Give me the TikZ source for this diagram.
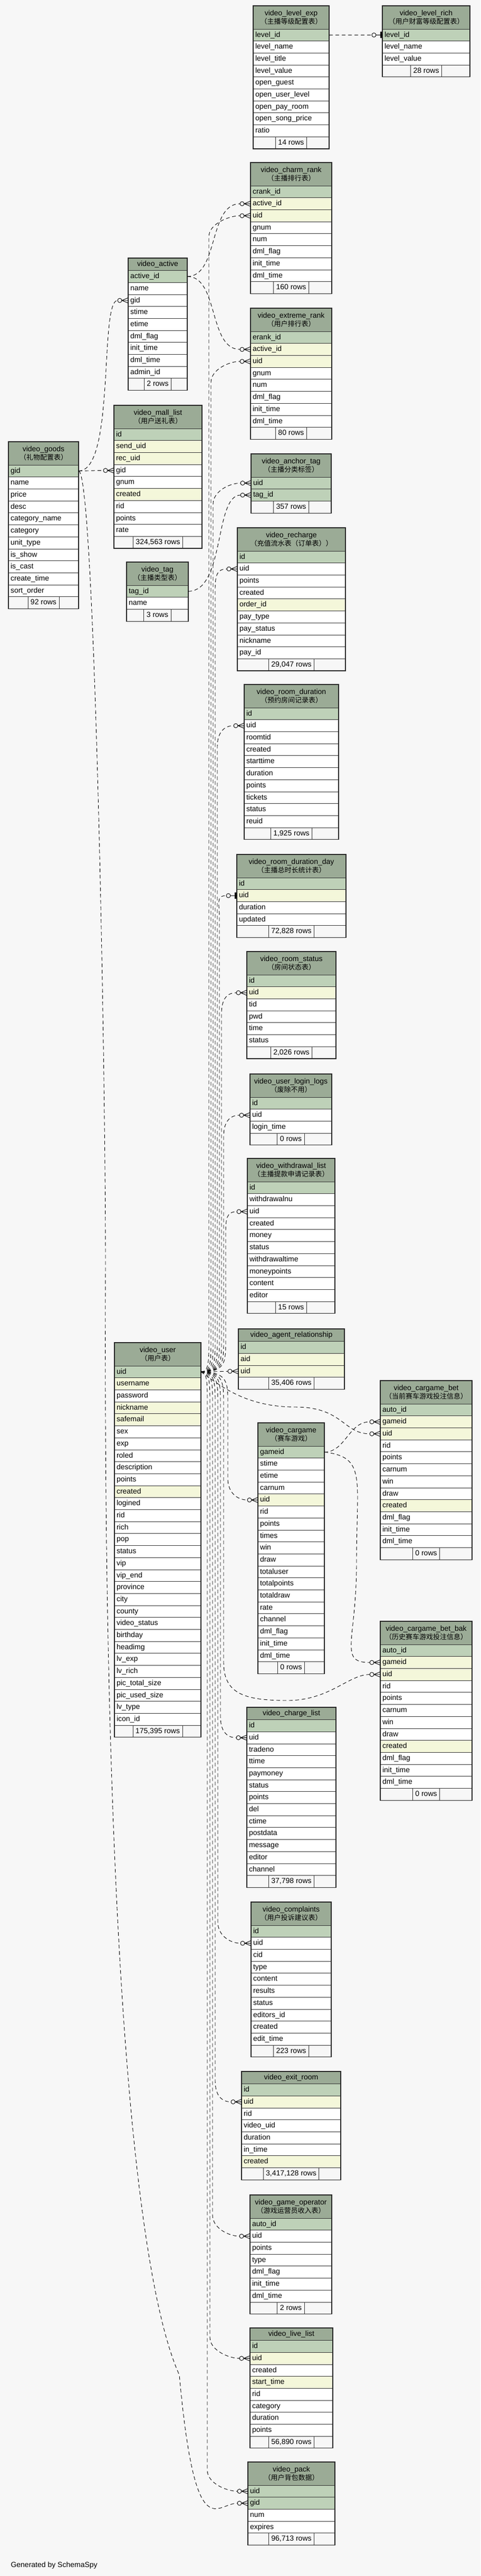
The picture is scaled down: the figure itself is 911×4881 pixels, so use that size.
\documentclass[tikz,border=0pt]{standalone}
\usepackage{fontspec}
\setmainfont{Liberation Sans}
\newfontfamily\cjk{Noto Sans CJK SC}
\usepackage{tikz}
\usetikzlibrary{calc,positioning}

\definecolor{pagebg}{HTML}{F7F7F7}
\definecolor{headc}{HTML}{9BAB96}
\definecolor{rowp}{HTML}{BED1B8}
\definecolor{rowi}{HTML}{F4F7DA}
\definecolor{rown}{HTML}{FFFFFF}

\newcommand{\rowh}{22.7}
\newcommand{\zhsub}[1]{{\cjk\fontsize{13}{15}\selectfont #1}}
% #1 name, #2 x, #3 y, #4 width, #5 title, #6 header height, #7 columns, #8 row count
\newcommand{\dbtable}[8]{%
  \pgfmathsetmacro{\tblw}{#4-8}
  \node[tblhead, minimum width=#4, minimum height=#6] (#1) at (#2,#3) {#5};
  \foreach \fld/\kind [count=\i from 0] in {#7} {
    \node[tblrow, fill=row\kind, text width=\tblw pt] (#1-\fld) at (#2,#3+#6+\i*\rowh) {\detokenize\expandafter{\fld}};
    \xdef\tblrows{\i}
  }
  \node[tblrow, fill=pagebg, text width=\tblw pt] (#1-foot) at (#2,#3+#6+\tblrows*\rowh+\rowh) {};
  \node[tblcount] at (#1-foot.center) {#8};
  \draw[tblframe] (#1.north west) rectangle (#1-foot.south east);
}
% zero or many
\newcommand{\crowfoot}[1]{%
  \draw[crowline] ([xshift=-12pt]#1.west) -- ([yshift=5pt]#1.west)
                  ([xshift=-12pt]#1.west) -- ([yshift=-5pt]#1.west)
                  ([xshift=-12pt]#1.west) -- (#1.west);
  \draw[crowline] ([xshift=-16pt]#1.west) circle[radius=4pt];
}
% zero or one
\newcommand{\onemark}[1]{%
  \draw[crowline] ([xshift=-16pt]#1.west) circle[radius=4pt] ([xshift=-12pt]#1.west) -- (#1.west);
  \draw[line width=3pt] ([xshift=-2.5pt,yshift=-6pt]#1.west) -- ([xshift=-2.5pt,yshift=6pt]#1.west);
}

\begin{document}
\begin{tikzpicture}[x=1pt,y=-1pt,
    tblhead/.style={draw=black!80, fill=headc, anchor=north west, align=center, inner sep=0pt, outer sep=0pt, line width=0.8pt, font=\fontsize{14}{16}\selectfont},
    tblrow/.style={draw=black!80, anchor=north west, align=left, inner xsep=4pt, inner ysep=0pt, outer sep=0pt, minimum height=\rowh, text height=10.5pt, text depth=3pt, line width=0.8pt, font=\fontsize{14}{16}\selectfont},
    tblcount/.style={draw=black!80, fill=pagebg, inner xsep=5pt, inner ysep=0pt, outer sep=0pt, minimum height=\rowh, text height=10.5pt, text depth=3pt, line width=0.8pt, font=\fontsize{14}{16}\selectfont},
    tblframe/.style={draw=black!85, line width=1.2pt},
    fk/.style={dash pattern=on 7pt off 5pt, line width=0.9pt},
    crowline/.style={line width=0.9pt}]
	\useasboundingbox (0,0) rectangle (911,4881);
	\fill [pagebg] (0,0) rectangle (911,4881);

	% tables
	\dbtable{lvexp}{480}{11}{144}{video\_level\_exp\\\zhsub{（主播等级配置表）}}{44}{level_id/p,level_name/n,level_title/n,level_value/n,open_guest/n,open_user_level/n,open_pay_room/n,open_song_price/n,ratio/n}{14 rows}
	\dbtable{lvrich}{725}{11}{166}{video\_level\_rich\\\zhsub{（用户财富等级配置表）}}{44}{level_id/p,level_name/n,level_value/n}{28 rows}
	\dbtable{charm}{475}{308}{154}{video\_charm\_rank\\\zhsub{（主播排行表）}}{44}{crank_id/p,active_id/i,uid/i,gnum/n,num/n,dml_flag/n,init_time/n,dml_time/n}{160 rows}
	\dbtable{active}{243}{489}{112}{video\_active}{23.5}{active_id/p,name/n,gid/n,stime/n,etime/n,dml_flag/n,init_time/n,dml_time/n,admin_id/n}{2 rows}
	\dbtable{extreme}{475}{584}{154}{video\_extreme\_rank\\\zhsub{（用户排行表）}}{44}{erank_id/p,active_id/i,uid/i,gnum/n,num/n,dml_flag/n,init_time/n,dml_time/n}{80 rows}
	\dbtable{mall}{216}{768}{167}{video\_mall\_list\\\zhsub{（用户送礼表）}}{44}{id/p,send_uid/i,rec_uid/i,gid/n,gnum/n,created/i,rid/n,points/n,rate/n}{324,563 rows}
	\dbtable{goods}{16}{837}{133}{video\_goods\\\zhsub{（礼物配置表）}}{44}{gid/p,name/n,price/n,desc/n,category_name/n,category/n,unit_type/n,is_show/n,is_cast/n,create_time/n,sort_order/n}{92 rows}
	\dbtable{anchortag}{476}{860}{152}{video\_anchor\_tag\\\zhsub{（主播分类标签）}}{44}{uid/p,tag_id/p}{357 rows}
	\dbtable{recharge}{450}{1000}{205}{video\_recharge\\\zhsub{（充值流水表（订单表））}}{44}{id/p,uid/n,points/n,created/n,order_id/i,pay_type/n,pay_status/n,nickname/n,pay_id/n}{29,047 rows}
	\dbtable{vtag}{240}{1065}{117}{video\_tag\\\zhsub{（主播类型表）}}{44}{tag_id/p,name/n}{3 rows}
	\dbtable{roomdur}{463}{1297}{179}{video\_room\_duration\\\zhsub{（预约房间记录表）}}{44}{id/p,uid/n,roomtid/n,created/n,starttime/n,duration/n,points/n,tickets/n,status/n,reuid/n}{1,925 rows}
	\dbtable{roomday}{449}{1619}{207}{video\_room\_duration\_day\\\zhsub{（主播总时长统计表）}}{44}{id/p,uid/i,duration/n,updated/n}{72,828 rows}
	\dbtable{roomstatus}{468}{1803}{169}{video\_room\_status\\\zhsub{（房间状态表）}}{44}{id/p,uid/i,tid/n,pwd/n,time/n,status/n}{2,026 rows}
	\dbtable{loginlogs}{474}{2035}{155}{video\_user\_login\_logs\\\zhsub{（废除不用）}}{44}{id/p,uid/n,login_time/n}{0 rows}
	\dbtable{withdrawal}{469}{2195}{166}{video\_withdrawal\_list\\\zhsub{（主播提款申请记录表）}}{44}{id/p,withdrawalnu/n,uid/n,created/n,money/n,status/n,withdrawaltime/n,moneypoints/n,content/n,editor/n}{15 rows}
	\dbtable{agent}{452}{2518}{201}{video\_agent\_relationship}{23.5}{id/p,aid/i,uid/i}{35,406 rows}
	\dbtable{user}{217}{2544}{164}{video\_user\\\zhsub{（用户表）}}{44}{uid/p,username/i,password/n,nickname/i,safemail/i,sex/n,exp/n,roled/n,description/n,points/n,created/i,logined/n,rid/n,rich/n,pop/n,status/n,vip/n,vip_end/n,province/n,city/n,county/n,video_status/n,birthday/n,headimg/n,lv_exp/n,lv_rich/n,pic_total_size/n,pic_used_size/n,lv_type/n,icon_id/n}{175,395 rows}
	\dbtable{bet}{721}{2616}{174}{video\_cargame\_bet\\\zhsub{（当前赛车游戏投注信息）}}{44}{auto_id/p,gameid/i,uid/i,rid/n,points/n,carnum/n,win/n,draw/n,created/i,dml_flag/n,init_time/n,dml_time/n}{0 rows}
	\dbtable{cargame}{489}{2696}{126}{video\_cargame\\\zhsub{（赛车游戏）}}{44}{gameid/p,stime/n,etime/n,carnum/n,uid/i,rid/n,points/n,times/n,win/n,draw/n,totaluser/n,totalpoints/n,totaldraw/n,rate/n,channel/n,dml_flag/n,init_time/n,dml_time/n}{0 rows}
	\dbtable{betbak}{721}{3072}{174}{video\_cargame\_bet\_bak\\\zhsub{（历史赛车游戏投注信息）}}{44}{auto_id/p,gameid/i,uid/i,rid/n,points/n,carnum/n,win/n,draw/n,created/i,dml_flag/n,init_time/n,dml_time/n}{0 rows}
	\dbtable{chargelist}{468}{3235}{169}{video\_charge\_list}{23.5}{id/p,uid/n,tradeno/n,ttime/n,paymoney/n,status/n,points/n,del/n,ctime/n,postdata/n,message/n,editor/n,channel/n}{37,798 rows}
	\dbtable{complaints}{476}{3604}{152}{video\_complaints\\\zhsub{（用户投诉建议表）}}{44}{id/p,uid/n,cid/n,type/n,content/n,results/n,status/n,editors_id/n,created/n,edit_time/n}{223 rows}
	\dbtable{exitroom}{458}{3925}{188}{video\_exit\_room}{23.5}{id/p,uid/i,rid/n,video_uid/n,duration/n,in_time/n,created/i}{3,417,128 rows}
	\dbtable{gameop}{474}{4159}{155}{video\_game\_operator\\\zhsub{（游戏运营员收入表）}}{44}{auto_id/p,uid/n,points/n,type/n,dml_flag/n,init_time/n,dml_time/n}{2 rows}
	\dbtable{livelist}{474}{4411}{157}{video\_live\_list}{23.5}{id/p,uid/i,created/n,start_time/i,rid/n,category/n,duration/n,points/n}{56,890 rows}
	\dbtable{pack}{470}{4665}{165}{video\_pack\\\zhsub{（用户背包数据）}}{44}{uid/p,gid/p,num/n,expires/n}{96,713 rows}

	\node [anchor=base west, font=\fontsize{14}{16}\selectfont] (gen) at (17,4864) {Generated by SchemaSpy};

	% level_id
	\draw [fk] (lvexp-level_id.east) -- ([xshift=-20pt]lvrich-level_id.west);
	\onemark{lvrich-level_id}

	% active_id
	\draw [fk] (active-active_id.east) .. controls +(60,0) and +(-60,0) .. ([xshift=-20pt]charm-active_id.west);
	\crowfoot{charm-active_id}
	\draw [fk] (active-active_id.east) .. controls +(60,0) and +(-60,0) .. ([xshift=-20pt]extreme-active_id.west);
	\crowfoot{extreme-active_id}

	% gid
	\draw [fk] (goods-gid.east) .. controls +(70,0) and +(-35,0) .. ([xshift=-20pt]active-gid.west);
	\crowfoot{active-gid}
	\draw [fk] (goods-gid.east) -- ([xshift=-20pt]mall-gid.west);
	\crowfoot{mall-gid}
	\draw [fk] (goods-gid.east) .. controls +(30,0) and +(0,-400) .. (200,2400) .. controls +(-5,1200) and +(-90,-200) .. (340,4500) .. controls +(30,330) and +(-40,0) .. ([xshift=-20pt]pack-gid.west);
	\crowfoot{pack-gid}

	% tag_id
	\draw [fk] (vtag-tag_id.east) .. controls +(70,0) and +(-50,0) .. ([xshift=-20pt]anchortag-tag_id.west);
	\crowfoot{anchortag-tag_id}

	% uid, up
	\foreach \tbl/\vx/\mk in {charm/396/\crowfoot,extreme/400/\crowfoot,anchortag/404/\crowfoot,recharge/408/\crowfoot,roomdur/412/\crowfoot,roomday/416/\onemark,roomstatus/420/\crowfoot,loginlogs/424/\crowfoot,withdrawal/428/\crowfoot} {
		\coordinate (bend) at (\vx,0);
		\draw [fk] (user-uid.east) .. controls +(\vx-381,0) and +(0,40) .. (\vx,2540)
			-- ($(\tbl-uid.west -| bend)+(0,40)$) .. controls +(0,-25) and +(-20,0) .. ([xshift=-20pt]\tbl-uid.west);
		\mk{\tbl-uid}
	}
	% uid, down
	\foreach \tbl/\vx in {cargame/432,chargelist/418,complaints/413,exitroom/408,gameop/403,livelist/398,pack/393} {
		\coordinate (bend) at (\vx,0);
		\draw [fk] (user-uid.east) .. controls +(\vx-381,0) and +(0,-40) .. (\vx,2660)
			-- ($(\tbl-uid.west -| bend)+(0,-40)$) .. controls +(0,25) and +(-20,0) .. ([xshift=-20pt]\tbl-uid.west);
		\crowfoot{\tbl-uid}
	}
	\draw [fk] (user-uid.east) -- ([xshift=-20pt]agent-uid.west);
	\crowfoot{agent-uid}
	\draw [fk] (user-uid.east) .. controls +(30,20) and +(-100,0) .. (560,2666) .. controls +(90,0) and +(-50,0) .. ([xshift=-20pt]bet-uid.west);
	\crowfoot{bet-uid}
	\draw [fk] (user-uid.east) .. controls +(43,0) and +(0,-40) .. (424,2660) -- (424,3150) .. controls +(0,60) and +(-80,0) .. (545,3222) .. controls +(80,0) and +(-40,0) .. ([xshift=-20pt]betbak-uid.west);
	\crowfoot{betbak-uid}

	% gameid
	\draw [fk] (cargame-gameid.east) .. controls +(40,0) and +(-40,0) .. ([xshift=-20pt]bet-gameid.west);
	\crowfoot{bet-gameid}
	\draw [fk] (cargame-gameid.east) .. controls +(80,10) and +(0,-160) .. (676,2960) .. controls +(0,150) and +(-60,0) .. ([xshift=-20pt]betbak-gameid.west);
	\crowfoot{betbak-gameid}
\end{tikzpicture}
\end{document}
